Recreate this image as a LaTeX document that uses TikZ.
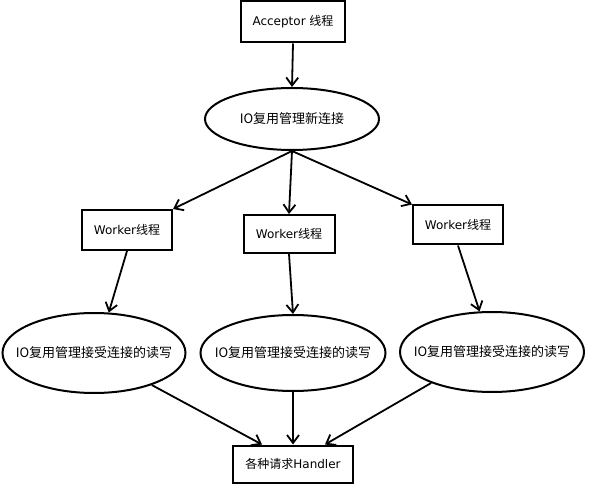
\documentclass[tikz,border=0pt]{standalone}
\usepackage{fontspec}
\setmainfont{DejaVu Sans}
\newfontfamily\cjk{Noto Sans CJK SC}
\usepackage{tikz}
\usetikzlibrary{shapes.geometric, arrows.meta}

\begin{document}
\begin{tikzpicture}[
        x=1pt, y=-1pt,
        box/.style={rectangle, draw, line width=2pt, inner sep=0pt, font=\fontsize{12}{14}\selectfont},
        oval/.style={ellipse, draw, line width=2pt, inner ysep=0pt, inner xsep=-24pt, font=\fontsize{13}{15}\selectfont\cjk},
        arrow/.style={-{Straight Barb[length=8pt, width=12pt]}, line width=1.8pt}
    ]
        \useasboundingbox (0,0) rectangle (589,486);
        % top part
        \node[box, minimum width=104pt, minimum height=41pt] (acceptor) at (293,22) {Acceptor {\cjk 线程}};
        \node[oval, minimum width=174pt, minimum height=62pt] (newconn) at (292,119) {IO复用管理新连接};
        % workers
        \node[box, minimum width=90pt, minimum height=40pt] (workerA) at (127,230) {Worker{\cjk 线程}};
        \node[box, minimum width=91pt, minimum height=38pt] (workerB) at (289,234) {Worker{\cjk 线程}};
        \node[box, minimum width=90pt, minimum height=39pt] (workerC) at (458,225) {Worker{\cjk 线程}};
        % read/write
        \node[oval, minimum width=183pt, minimum height=80pt] (rwA) at (94,353) {IO复用管理接受连接的读写};
        \node[oval, minimum width=185pt, minimum height=76pt] (rwB) at (293,353) {IO复用管理接受连接的读写};
        \node[oval, minimum width=184pt, minimum height=80pt] (rwC) at (492,352) {IO复用管理接受连接的读写};
        \node[box, minimum width=120pt, minimum height=37pt] (handler) at (293,464) {{\cjk 各种请求}Handler};

        \draw[arrow] (acceptor.south) -- (newconn.north);
        \draw[arrow] (newconn.south) -- (workerA.north east);
        \draw[arrow] (newconn.south) -- (workerB.north);
        \draw[arrow] (newconn.south) -- (workerC.north west);
        \draw[arrow] (workerA.south) -- (rwA.70);
        \draw[arrow] (workerB.south) -- (rwB.north);
        \draw[arrow] (workerC.south) -- (rwC.107);
        \draw[arrow] (rwA.331) -- ([xshift=-31pt]handler.north);
        \draw[arrow] (rwB.south) -- (handler.north);
        \draw[arrow] (rwC.207) -- ([xshift=32pt]handler.north);
    \end{tikzpicture}
\end{document}
